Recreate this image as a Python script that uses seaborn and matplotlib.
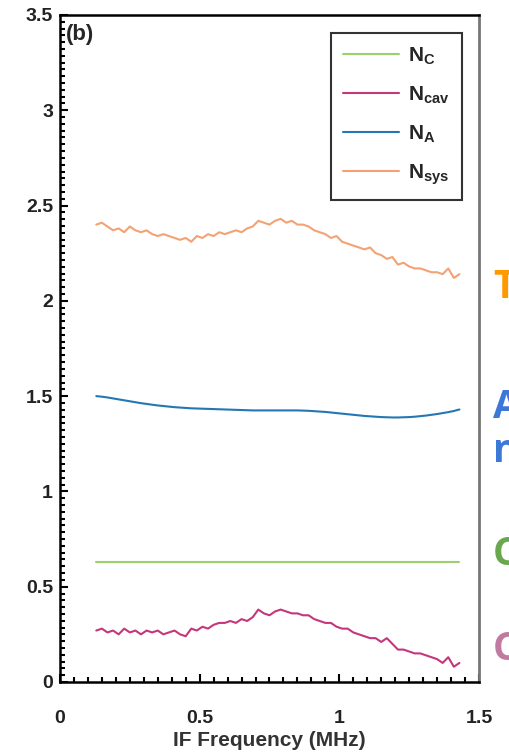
import pandas as pd
import seaborn as sns
import matplotlib.pyplot as plt
import matplotlib.ticker as ticker

freq = [0.13, 0.15, 0.17, 0.19, 0.21, 0.23, 0.25, 0.27, 0.29, 0.31,
        0.33, 0.35, 0.37, 0.39, 0.41, 0.43, 0.45, 0.47, 0.49, 0.51,
        0.53, 0.55, 0.57, 0.59, 0.61, 0.63, 0.65, 0.67, 0.69, 0.71,
        0.73, 0.75, 0.77, 0.79, 0.81, 0.83, 0.85, 0.87, 0.89, 0.91,
        0.93, 0.95, 0.97, 0.99, 1.01, 1.03, 1.05, 1.07, 1.09, 1.11,
        1.13, 1.15, 1.17, 1.19, 1.21, 1.23, 1.25, 1.27, 1.29, 1.31,
        1.33, 1.35, 1.37, 1.39, 1.41, 1.43]

n_sys = [2.40, 2.41, 2.39, 2.37, 2.38, 2.36, 2.39, 2.37, 2.36, 2.37,
         2.35, 2.34, 2.35, 2.34, 2.33, 2.32, 2.33, 2.31, 2.34, 2.33,
         2.35, 2.34, 2.36, 2.35, 2.36, 2.37, 2.36, 2.38, 2.39, 2.42,
         2.41, 2.40, 2.42, 2.43, 2.41, 2.42, 2.40, 2.40, 2.39, 2.37,
         2.36, 2.35, 2.33, 2.34, 2.31, 2.30, 2.29, 2.28, 2.27, 2.28,
         2.25, 2.24, 2.22, 2.23, 2.19, 2.20, 2.18, 2.17, 2.17, 2.16,
         2.15, 2.15, 2.14, 2.17, 2.12, 2.14]

n_cav = [0.27, 0.28, 0.26, 0.27, 0.25, 0.28, 0.26, 0.27, 0.25, 0.27,
         0.26, 0.27, 0.25, 0.26, 0.27, 0.25, 0.24, 0.28, 0.27, 0.29,
         0.28, 0.30, 0.31, 0.31, 0.32, 0.31, 0.33, 0.32, 0.34, 0.38,
         0.36, 0.35, 0.37, 0.38, 0.37, 0.36, 0.36, 0.35, 0.35, 0.33,
         0.32, 0.31, 0.31, 0.29, 0.28, 0.28, 0.26, 0.25, 0.24, 0.23,
         0.23, 0.21, 0.23, 0.20, 0.17, 0.17, 0.16, 0.15, 0.15, 0.14,
         0.13, 0.12, 0.10, 0.13, 0.08, 0.10]

n_a = [1.500, 1.497, 1.493, 1.488, 1.483, 1.478, 1.473, 1.468, 1.463, 1.459,
       1.455, 1.451, 1.448, 1.445, 1.442, 1.440, 1.438, 1.436, 1.435, 1.434,
       1.433, 1.432, 1.431, 1.430, 1.429, 1.428, 1.427, 1.426, 1.425, 1.425,
       1.425, 1.425, 1.425, 1.425, 1.425, 1.425, 1.425, 1.424, 1.423, 1.421,
       1.419, 1.417, 1.414, 1.411, 1.408, 1.405, 1.402, 1.399, 1.396, 1.394,
       1.392, 1.390, 1.389, 1.388, 1.388, 1.389, 1.390, 1.392, 1.395, 1.398,
       1.402, 1.406, 1.411, 1.416, 1.422, 1.430]

n_c_freq = [0.13, 1.43]
n_c = [0.63, 0.63]

labels = [r'$\mathbf{N_C}$', r'$\mathbf{N_{cav}}$', r'$\mathbf{N_A}$', r'$\mathbf{N_{sys}}$']
colors = ['#9dd06c', '#c4377a', '#2477b3', '#f4a274']

frames = [
    pd.DataFrame({'freq': n_c_freq, 'noise': n_c, 'curve': labels[0]}),
    pd.DataFrame({'freq': freq, 'noise': n_cav, 'curve': labels[1]}),
    pd.DataFrame({'freq': freq, 'noise': n_a, 'curve': labels[2]}),
    pd.DataFrame({'freq': freq, 'noise': n_sys, 'curve': labels[3]}),
]
df = pd.concat(frames, ignore_index=True)

sns.set_style('white')
plt.rcParams['font.family'] = ['Liberation Sans', 'DejaVu Sans']
plt.rcParams['mathtext.fontset'] = 'custom'
plt.rcParams['mathtext.bf'] = 'Liberation Sans:bold'
plt.rcParams['mathtext.rm'] = 'Liberation Sans'

fig = plt.figure(figsize=(5.1, 7.56), dpi=100)
ax = fig.add_axes([0.1176, 0.0979, 0.8216, 0.8823])

sns.lineplot(data=df, x='freq', y='noise', hue='curve', hue_order=labels,
             palette=colors, sort=False, errorbar=None, linewidth=1.5, ax=ax)

ax.set_xlim(0, 1.5)
ax.set_ylim(0, 3.5)
ax.xaxis.set_major_locator(ticker.MultipleLocator(0.5))
ax.xaxis.set_minor_locator(ticker.MultipleLocator(0.05))
ax.yaxis.set_major_locator(ticker.MultipleLocator(0.5))
ax.yaxis.set_minor_locator(ticker.MultipleLocator(0.5 / 14))
ax.xaxis.set_major_formatter(ticker.FuncFormatter(lambda v, p: f'{v:g}'))
ax.yaxis.set_major_formatter(ticker.FuncFormatter(lambda v, p: f'{v:g}'))

ax.tick_params(which='both', direction='in', top=False, right=False,
               bottom=True, left=True, width=1.5, color='black')
ax.tick_params(which='major', length=6, labelsize=14)
ax.tick_params(axis='x', which='major', pad=20)
ax.tick_params(axis='y', which='major', pad=5)
ax.tick_params(which='minor', length=3.5)
for lab in ax.get_xticklabels() + ax.get_yticklabels():
    lab.set_fontweight('bold')
    lab.set_color('#222222')

for side in ['left', 'bottom', 'top']:
    ax.spines[side].set_color('black')
    ax.spines[side].set_linewidth(1.8)
ax.spines['right'].set_color('#777777')
ax.spines['right'].set_linewidth(2)

ax.set_xlabel('IF Frequency (MHz)', fontsize=15, fontweight='bold', color='#333333', labelpad=3)
ax.set_ylabel('')
ax.text(0.015, 0.987, '(b)', transform=ax.transAxes, fontsize=16,
        fontweight='bold', va='top', ha='left')

leg = ax.legend(title=None, loc='upper right', bbox_to_anchor=(0.959, 0.973),
                borderaxespad=0, fontsize=15, handlelength=2.7, labelspacing=0.85,
                frameon=True, fancybox=False, borderpad=0.6, handletextpad=0.4)
leg.get_frame().set_edgecolor('black')
leg.get_frame().set_linewidth(1.5)

# cut-off colored labels beyond the right edge
side_notes = [('T', 298, '#ff9900'), ('A', 418, '#3c78d8'), ('n', 462, '#3c78d8'),
              ('C', 565, '#6aa84f'), ('C', 660, '#c27ba0')]
for txt, base, col in side_notes:
    fig.text(493 / 510, 1 - base / 756, txt, fontsize=28, fontweight='bold',
             color=col, va='baseline', ha='left', family=['Open Sans', 'DejaVu Sans'])

fig.savefig('out.png', dpi=100)
plt.close(fig)
